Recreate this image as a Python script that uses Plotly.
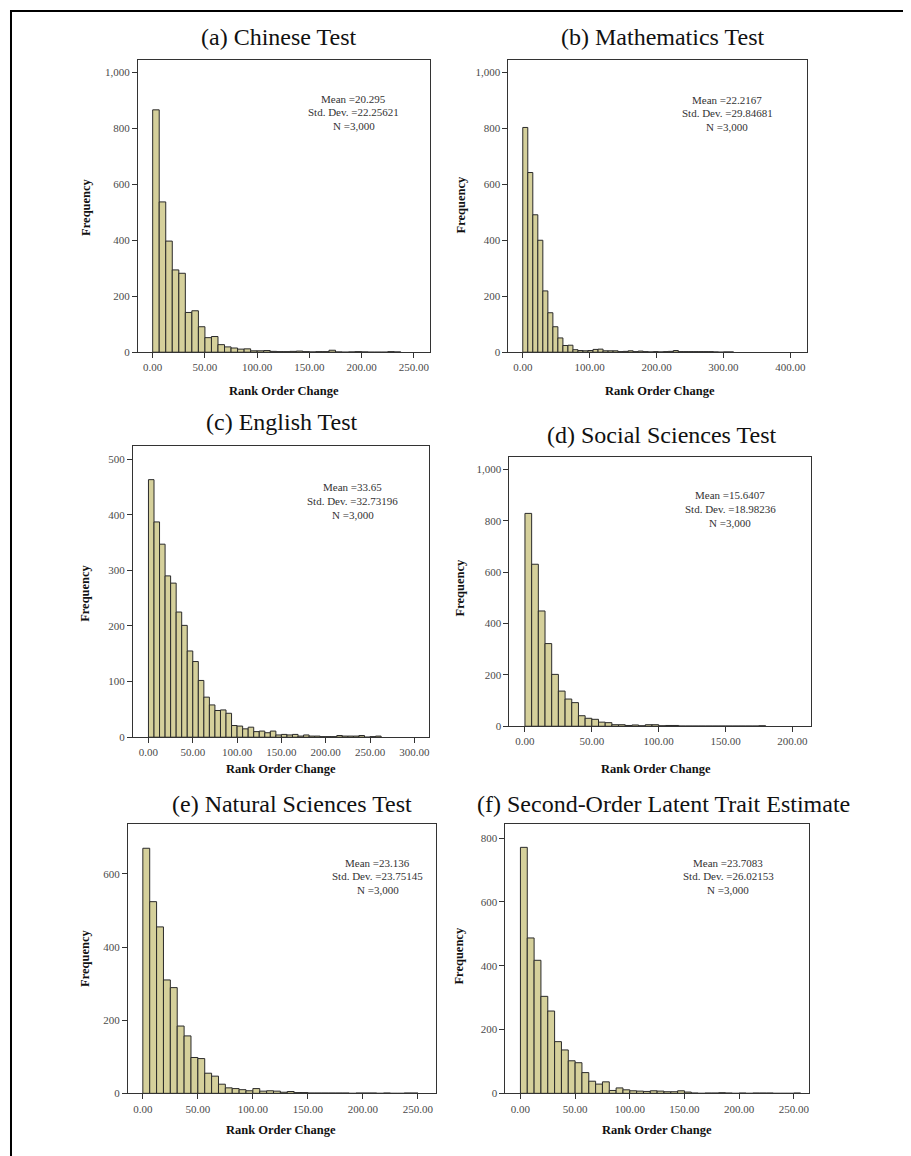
import plotly.graph_objects as go

W, H = 911, 1156

# ---------------- data ----------------
panel_titles = ["(a) Chinese Test", "(b) Mathematics Test", "(c) English Test",
                "(d) Social Sciences Test", "(e) Natural Sciences Test",
                "(f) Second-Order Latent Trait Estimate"]

bin_width_a = 6.25
bin_width_b = 7.5
bin_width_c = 6.25
bin_width_d = 5.0
bin_width_e = 6.25
bin_width_f = 6.25

counts_a = [866, 537, 397, 294, 282, 142, 148, 91, 52, 56, 27, 19, 15, 11, 12,
            5, 5, 6, 3, 2, 2, 3, 4, 2, 1, 2, 2, 7, 1, 0, 1, 2, 1, 0, 0, 0, 2, 1]
counts_b = [803, 642, 491, 400, 219, 141, 91, 51, 24, 25, 9, 6, 5, 6, 10, 11, 5, 5, 5,
            2, 3, 5, 2, 4, 2, 1, 2, 1, 2, 3, 6, 2, 2, 2, 2, 2, 2, 2, 1, 0, 1, 1]
counts_c = [463, 387, 347, 290, 277, 225, 201, 155, 136, 102, 72, 58, 48, 49, 43,
            21, 20, 15, 18, 10, 11, 8, 11, 4, 5, 4, 5, 2, 4, 2, 2, 1, 1, 1, 3, 2, 2,
            2, 3, 0, 1, 2]
counts_d = [829, 631, 449, 322, 202, 137, 106, 92, 41, 31, 27, 16, 14, 6, 6, 3, 5, 2,
            6, 6, 2, 3, 3, 1, 1, 1, 1, 1, 1, 1, 1, 1, 1, 1, 1, 2]
counts_e = [670, 524, 455, 310, 289, 184, 157, 98, 95, 55, 47, 25, 15, 13, 10, 7, 13,
            6, 7, 6, 3, 5, 2, 2, 1, 1, 1, 1, 1, 1, 0, 1, 1, 1, 0, 1, 0, 0, 1, 1]
counts_f = [771, 487, 417, 304, 258, 162, 136, 102, 96, 65, 38, 29, 36, 9, 17, 11, 8,
            7, 6, 8, 7, 5, 5, 8, 4, 1, 0, 1, 1, 2, 1, 0, 1, 0, 1, 1, 1, 0, 0, 0, 1]

means = ["20.295", "22.2167", "33.65", "15.6407", "23.136", "23.7083"]
std_devs = ["22.25621", "29.84681", "32.73196", "18.98236", "23.75145", "26.02153"]
n_text = "3,000"

xticks_a = [0, 50, 100, 150, 200, 250]
xticks_b = [0, 100, 200, 300, 400]
xticks_c = [0, 50, 100, 150, 200, 250, 300]
xticks_d = [0, 50, 100, 150, 200]
xticks_e = [0, 50, 100, 150, 200, 250]
xticks_f = [0, 50, 100, 150, 200, 250]

yticks_a = [0, 200, 400, 600, 800, 1000]
yticks_b = [0, 200, 400, 600, 800, 1000]
yticks_c = [0, 100, 200, 300, 400, 500]
yticks_d = [0, 200, 400, 600, 800, 1000]
yticks_e = [0, 200, 400, 600]
yticks_f = [0, 200, 400, 600, 800]

x_axis_title = "Rank Order Change"
y_axis_title = "Frequency"

# ---------------- layout geometry (pixels) ----------------
frames = [
    dict(l=130, r=422, t=52, b=346, xr=[-14.2, 265], yr=[0, 1045]),
    dict(l=501, r=800, t=52, b=346, xr=[-21.4, 425], yr=[0, 1045]),
    dict(l=125, r=421, t=440, b=733, xr=[-17.6, 316], yr=[0, 524]),
    dict(l=502, r=804, t=451, b=722, xr=[-11.6, 214], yr=[0, 1050]),
    dict(l=120, r=428, t=820, b=1091, xr=[-13.6, 266], yr=[0, 737]),
    dict(l=498, r=802, t=820, b=1091, xr=[-13.7, 264], yr=[0, 845]),
]
title_pos = [(271, 29), (655, 29), (274, 416), (654, 429), (284, 800), (656, 800)]
ylab_pos = [(78, 200), (453, 198), (77, 588), (452, 583), (77, 955), (452, 953)]
xlab_pos = [(276, 385), (653, 385), (273, 765), (649, 765), (273, 1128), (650, 1128)]
stat_pos = [(346, 91), (720, 92), (345, 482), (723, 490), (370, 859), (721, 859)]

all_counts = [counts_a, counts_b, counts_c, counts_d, counts_e, counts_f]
all_widths = [bin_width_a, bin_width_b, bin_width_c, bin_width_d, bin_width_e, bin_width_f]
all_xticks = [xticks_a, xticks_b, xticks_c, xticks_d, xticks_e, xticks_f]
all_yticks = [yticks_a, yticks_b, yticks_c, yticks_d, yticks_e, yticks_f]


def px(x):
    return x / W


def py(y):
    return 1 - y / H


SERIF = "Liberation Serif, Times New Roman, serif"
BAR_FILL = "#d5d09b"
BAR_LINE = "#2a2a2a"
AX_LINE = "#333333"
TICK_COL = "#4a4a4a"

fig = go.Figure()
annotations = []
layout_axes = {}

for i in range(6):
    k = "" if i == 0 else str(i + 1)
    w = all_widths[i]
    cnt = all_counts[i]
    centers = [w * (j + 0.5) for j in range(len(cnt))]
    fig.add_trace(go.Bar(
        x=centers, y=cnt, width=[w] * len(cnt),
        marker=dict(color=BAR_FILL, line=dict(color=BAR_LINE, width=1)),
        xaxis="x" + k, yaxis="y" + k, showlegend=False,
        hovertemplate="%{x}: %{y}<extra></extra>",
    ))
    f = frames[i]
    layout_axes["xaxis" + k] = dict(
        domain=[px(f["l"]), px(f["r"])], range=f["xr"], anchor="y" + k,
        tickvals=all_xticks[i], tickformat=".2f",
        showline=True, mirror=True, linecolor=AX_LINE, linewidth=1,
        ticks="outside", ticklen=5, tickcolor=AX_LINE,
        showgrid=False, zeroline=False,
        tickfont=dict(family=SERIF, size=11, color=TICK_COL),
    )
    layout_axes["yaxis" + k] = dict(
        domain=[py(f["b"]), py(f["t"])], range=f["yr"], anchor="x" + k,
        tickvals=all_yticks[i], tickformat=",d",
        showline=True, mirror=True, linecolor=AX_LINE, linewidth=1,
        ticks="outside", ticklen=5, tickcolor=AX_LINE,
        showgrid=False, zeroline=False,
        tickfont=dict(family=SERIF, size=11, color=TICK_COL),
    )
    tx, ty = title_pos[i]
    annotations.append(dict(
        text=panel_titles[i], x=px(tx), y=py(ty), xref="paper", yref="paper",
        xanchor="center", yanchor="middle", showarrow=False,
        font=dict(family=SERIF, size=24, color="#111111")))
    lx, ly = ylab_pos[i]
    annotations.append(dict(
        text="<b>" + y_axis_title + "</b>", x=px(lx), y=py(ly), xref="paper",
        yref="paper", xanchor="center", yanchor="middle", textangle=-90,
        showarrow=False, font=dict(family=SERIF, size=12.5, color="#111111")))
    xx, xy = xlab_pos[i]
    annotations.append(dict(
        text="<b>" + x_axis_title + "</b>", x=px(xx), y=py(xy), xref="paper",
        yref="paper", xanchor="center", yanchor="middle",
        showarrow=False, font=dict(family=SERIF, size=12.5, color="#111111")))
    sx, sy = stat_pos[i]
    lines = ["Mean =" + means[i], "Std. Dev. =" + std_devs[i], "N =" + n_text]
    for li, t in enumerate(lines):
        annotations.append(dict(
            text=t, x=px(sx), y=py(sy + 14 * li), xref="paper", yref="paper",
            xanchor="center", yanchor="middle", showarrow=False,
            font=dict(family=SERIF, size=11, color="#333333")))

shapes = [
    dict(type="line", xref="paper", yref="paper", x0=px(3), x1=px(3), y0=py(2), y1=py(1160),
         line=dict(color="black", width=2)),
    dict(type="line", xref="paper", yref="paper", x0=px(2), x1=px(909), y0=py(3), y1=py(3),
         line=dict(color="black", width=2)),
    dict(type="line", xref="paper", yref="paper", x0=px(908), x1=px(908), y0=py(2), y1=py(1160),
         line=dict(color="black", width=2)),
]

fig.update_layout(
    width=W, height=H, margin=dict(l=0, r=0, t=0, b=0),
    paper_bgcolor="white", plot_bgcolor="white",
    barmode="overlay", annotations=annotations, shapes=shapes,
    **layout_axes,
)

fig.write_html("out.html")
